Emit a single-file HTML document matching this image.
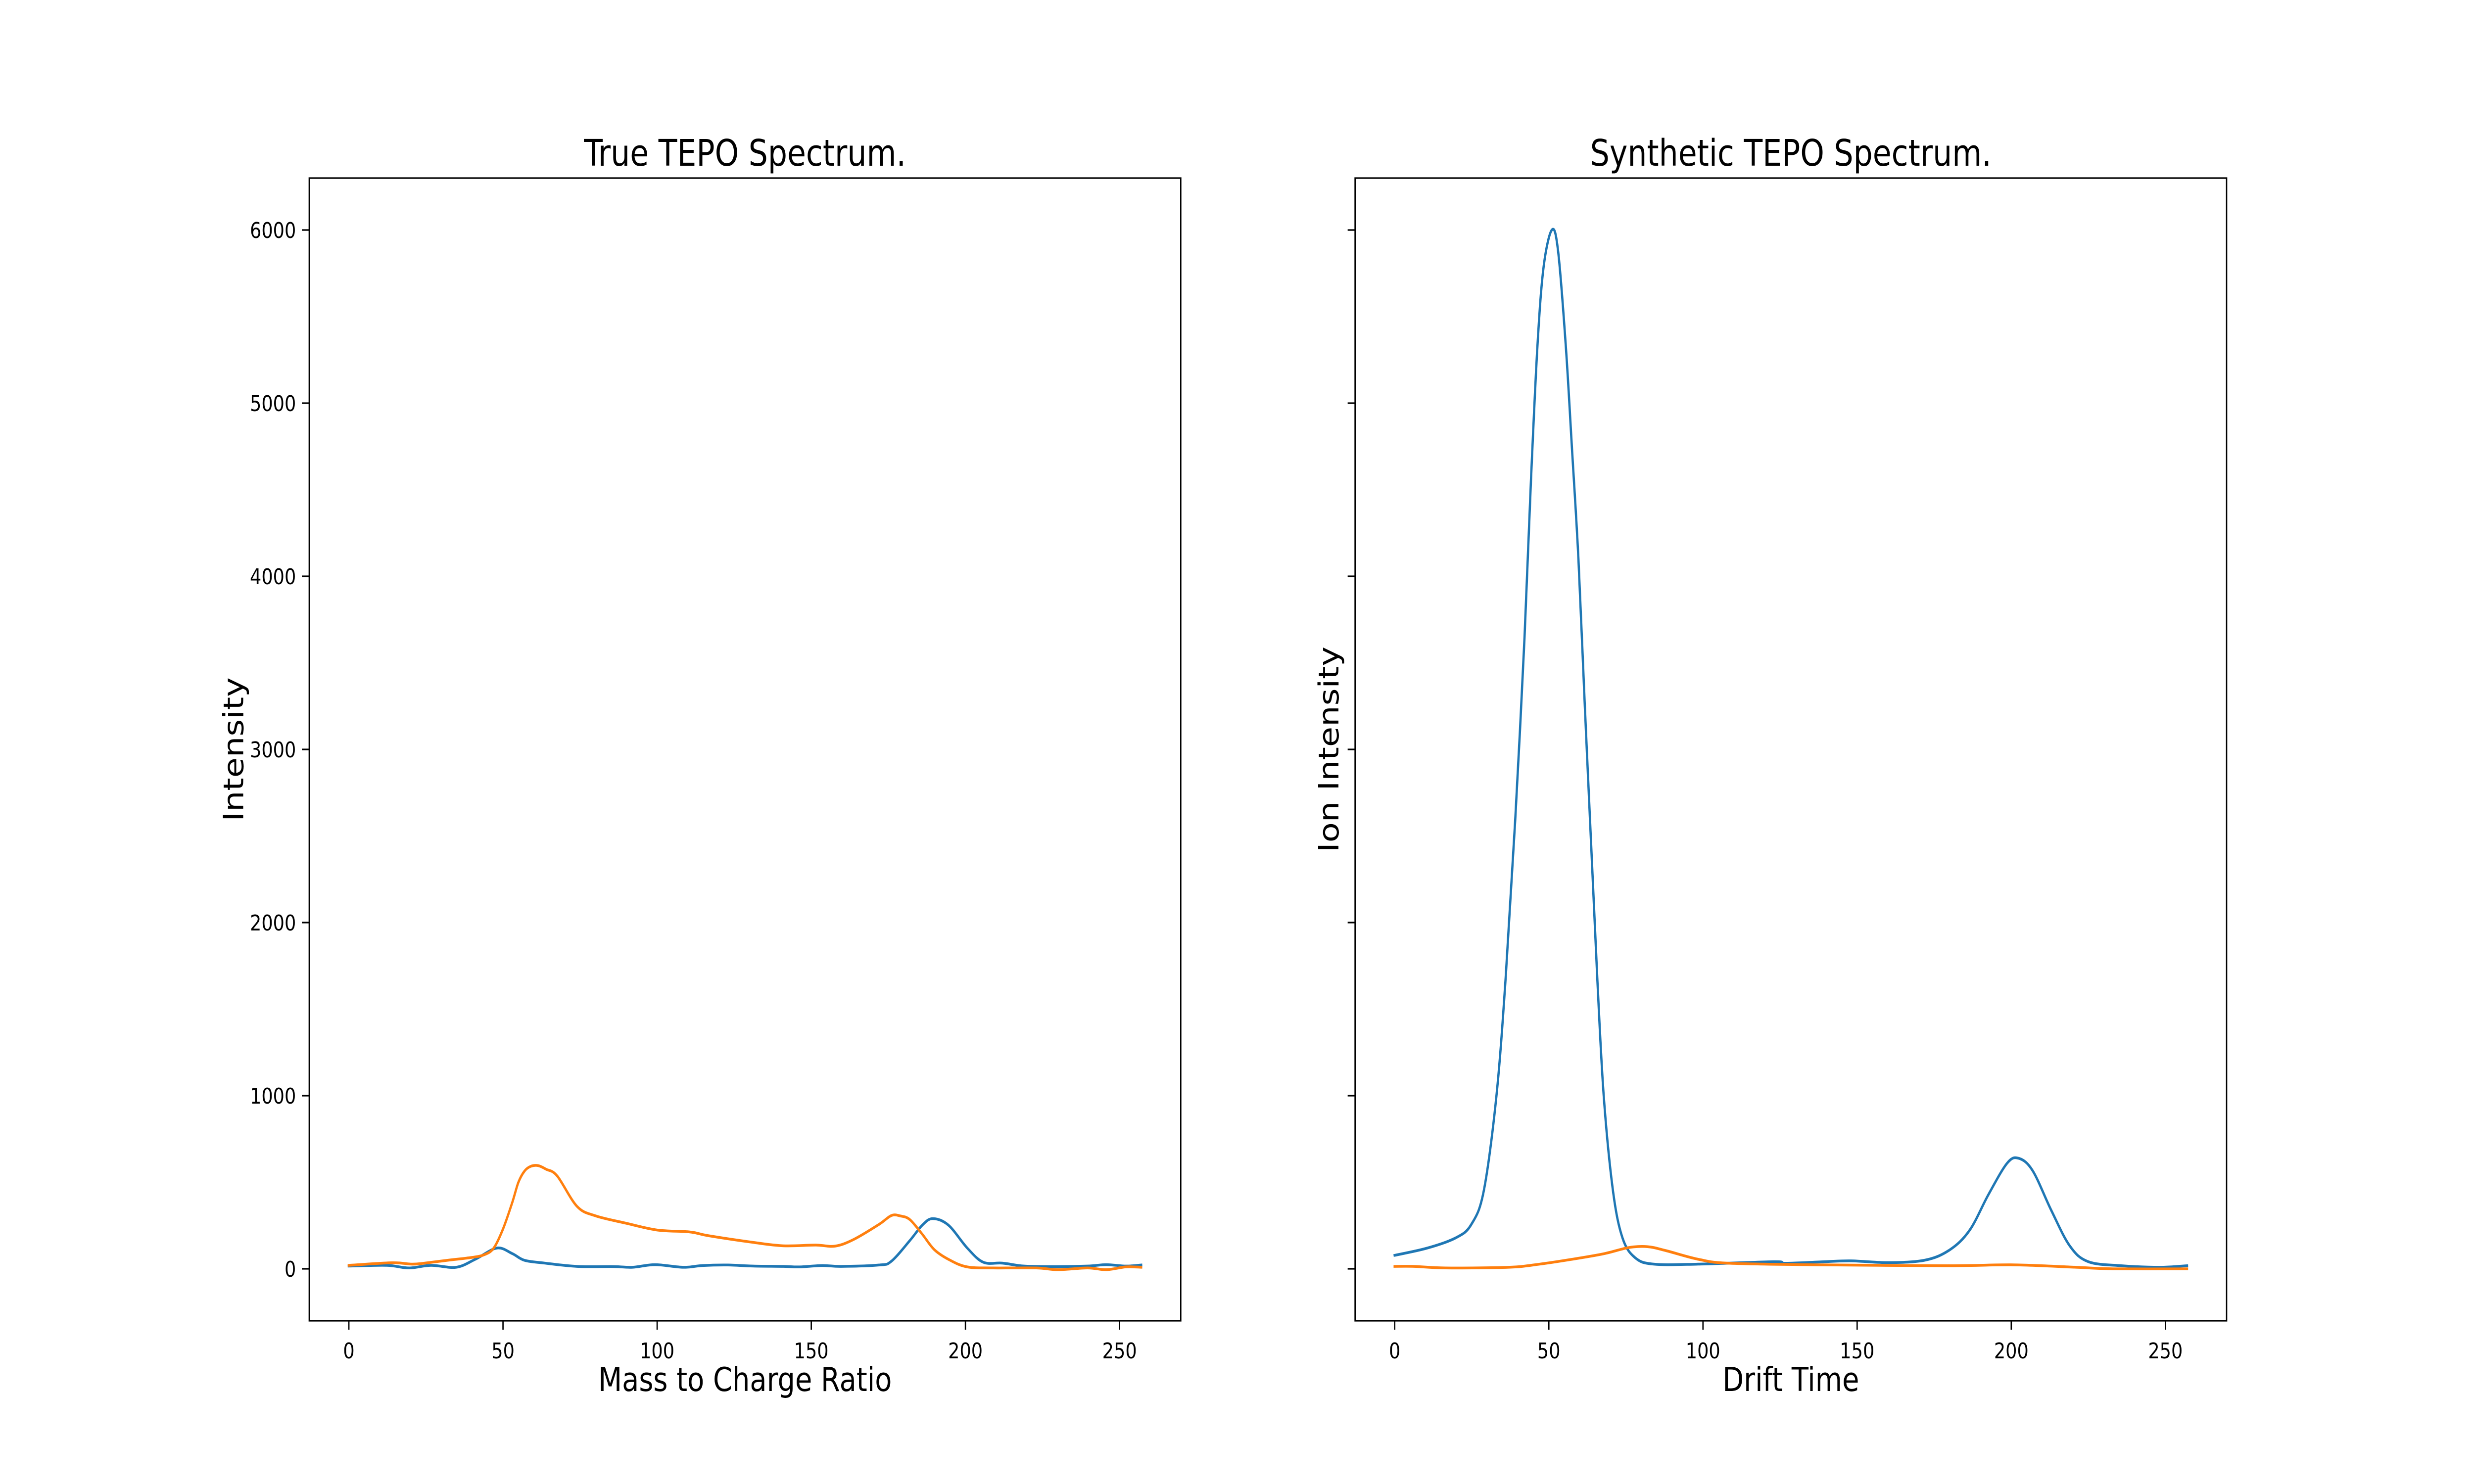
<!DOCTYPE html>
<html><head><meta charset="utf-8"><style>
html,body{margin:0;padding:0;background:#fff;overflow:hidden;width:100%;height:100%;}
svg{display:block;width:100vw;height:100vh;font-family:"DejaVu Sans","Liberation Sans",sans-serif;}
</style></head><body>
<svg id="fig" viewBox="0 0 6000 3000" preserveAspectRatio="none" xmlns="http://www.w3.org/2000/svg">
<rect width="6000" height="3000" fill="#fff"/>
</svg>
<script>
// ---- data ----
const xTicks = [0, 50, 100, 150, 200, 250];
const yTicks = [0, 1000, 2000, 3000, 4000, 5000, 6000];
const leftBlueX = [0,12.3,19.5,26.6,34.8,41,48,53,57,63.5,74,86,92,99.3,108.5,114.7,123,131,141,146,153.6,159.7,172,176,182,186,189.4,194.5,200.6,205.8,212,219,229,239.6,245.7,252,257];
const leftBlueY = [16,20,5,20,9,55,120,88,49,33,14,13,9,24,9,19,22,16,14,11,19,14,22,44,164,252,290,252,120,38,33,16,13,16,24,16,22];
const leftOrangeX = [0,14,20.5,24.6,32.8,40,44,47,50,53,55,57,59,61.4,64,67.6,74,80,90,100,110.6,116.7,131,141,151.5,157.7,163.8,172,176,179,182,186,190,195,200.6,209,223,230,239.6,245.7,252,257];
const leftOrangeY = [20,35,27,33,51,66,82,120,230,383,500,565,592,596,575,536,361,306,263,224,213,191,153,133,137,131,170,257,308,305,284,200,109,50,11,5,5,-5,5,-5,11,9];
const rightBlueX = [0,10.4,19.7,24.8,28.9,33,36,39.1,42.1,44.2,46.3,48.3,51,53,55.5,57.5,59.6,61.6,63.7,65.7,67.8,70.8,73.9,78,84,98.5,123,127,139.4,148,160,172,180,186.5,192.6,198.7,202.5,207,213,219,225,235.7,248,257];
const rightBlueY = [78,119,178,255,451,999,1683,2595,3643,4555,5330,5787,6001,5878,5330,4738,4099,3279,2458,1683,999,451,178,64,27,27,41,32,41,46,36,50,109,223,429,611,638,565,337,132,41,18,9,18];
const rightOrangeX = [0,6.3,16.6,37,47,57.5,67.8,76,82,88,98.5,108.7,139,180,200.8,221,233,257];
const rightOrangeY = [14,14,5,9,27,55,87,123,128,105,55,32,23,18,23,9,0,0];

const NS = "http://www.w3.org/2000/svg";
const svg = document.getElementById('fig');
const XMIN = -12.85, XMAX = 269.85, YMIN = -300, YMAX = 6300;
const TOP = 360, BOT = 2670;

function mk(tag, attrs, parent) {
  const e = document.createElementNS(NS, tag);
  for (const k in attrs) e.setAttribute(k, attrs[k]);
  (parent || svg).appendChild(e);
  return e;
}
function pathFrom(xs, ys, sx, sy) {
  const p = xs.map((x, i) => [sx(x), sy(ys[i])]);
  let d = `M${p[0][0]},${p[0][1]}`;
  for (let i = 0; i < p.length - 1; i++) {
    const p0 = p[Math.max(0, i - 1)], p1 = p[i], p2 = p[i + 1], p3 = p[Math.min(p.length - 1, i + 2)];
    const c1x = p1[0] + (p2[0] - p0[0]) / 6, c1y = p1[1] + (p2[1] - p0[1]) / 6;
    const c2x = p2[0] - (p3[0] - p1[0]) / 6, c2y = p2[1] - (p3[1] - p1[1]) / 6;
    d += ` C${c1x},${c1y} ${c2x},${c2y} ${p2[0]},${p2[1]}`;
  }
  return d;
}

function panel(L, R, title, xlabel, ylabel, ylabelX, showYLabels, bx, by, ox, oy, key) {
  const g = mk('g', {});
  
  
  const sx = v => L + (v - XMIN) / (XMAX - XMIN) * (R - L);
  const sy = v => BOT - (v - YMIN) / (YMAX - YMIN) * (BOT - TOP);

  const ob = mk('path', {d: pathFrom(bx, by, sx, sy), fill: 'none', stroke: '#1f77b4', 'stroke-width': 5.5, 'stroke-linejoin': 'round', 'stroke-linecap': 'square'}, g);
  
  
  const oo = mk('path', {d: pathFrom(ox, oy, sx, sy), fill: 'none', stroke: '#ff7f0e', 'stroke-width': 5.5, 'stroke-linejoin': 'round', 'stroke-linecap': 'square'}, g);
  
  

  const fr = mk('rect', {x: L, y: TOP, width: R - L, height: BOT - TOP, fill: 'none', stroke: '#000', 'stroke-width': 3.2}, g);
  
  

  xTicks.forEach(t => {
    const x = sx(t);
    const tk = mk('line', {x1: x, x2: x, y1: BOT, y2: BOT + 18, stroke: '#000', 'stroke-width': 3.2}, g);
    
    
    const tl = mk('text', {x: x, y: BOT + 76, 'font-size': 44, 'text-anchor': 'middle', fill: '#000'}, g);
    tl.textContent = t;
    
    
  });
  yTicks.forEach(t => {
    const y = sy(t);
    const tk = mk('line', {x1: L - 18, x2: L, y1: y, y2: y, stroke: '#000', 'stroke-width': 3.2}, g);
    
    
    if (showYLabels) {
      const tl = mk('text', {x: L - 32, y: y + 16, 'font-size': 44, 'text-anchor': 'end', fill: '#000'}, g);
      tl.textContent = t;
      
      
    }
  });
  const tt = mk('text', {x: (L + R) / 2, y: 335, 'font-size': 74, 'text-anchor': 'middle', fill: '#000'}, g);
  tt.textContent = title;
  
  
  const xl = mk('text', {x: (L + R) / 2, y: 2812, 'font-size': 67, 'text-anchor': 'middle', fill: '#000'}, g);
  xl.textContent = xlabel;
  
  
  const cy = (TOP + BOT) / 2;
  const yl = mk('text', {x: ylabelX, y: cy, 'font-size': 67, 'text-anchor': 'middle', fill: '#000', transform: `rotate(-90 ${ylabelX} ${cy})`}, g);
  yl.textContent = ylabel;
  
  
}

panel(750, 2863.6, 'True TEPO Spectrum.', 'Mass to Charge Ratio', 'Intensity', 590, true,
  leftBlueX, leftBlueY, leftOrangeX, leftOrangeY, 'true-spectrum');
panel(3286.4, 5400, 'Synthetic TEPO Spectrum.', 'Drift Time', 'Ion Intensity', 3246, false,
  rightBlueX, rightBlueY, rightOrangeX, rightOrangeY, 'synthetic-spectrum');
</script>
</body></html>
